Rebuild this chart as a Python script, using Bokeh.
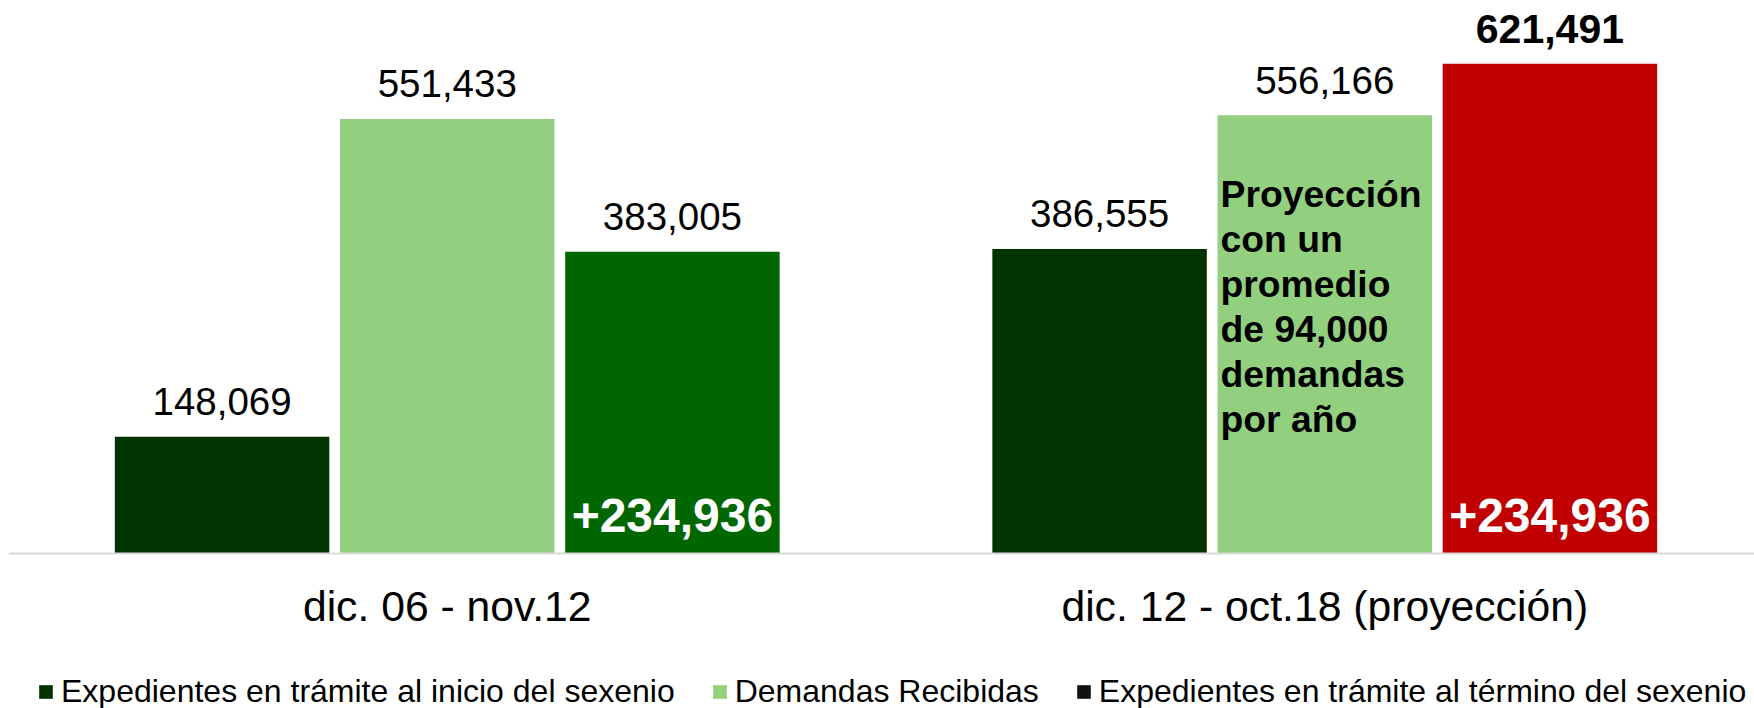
from bokeh.plotting import figure
from bokeh.models import Range1d, FixedTicker, Legend, LegendItem, ColumnDataSource
from bokeh.core.properties import value
from bokeh.embed import file_html
from bokeh.resources import INLINE

# ---- data ----
periods = ["dic. 06 - nov.12", "dic. 12 - oct.18 (proyección)"]
series_names = [
    "Expedientes en trámite al inicio del sexenio",
    "Demandas Recibidas",
    "Expedientes en trámite al término del sexenio",
]
inicio = [148069, 386555]
recibidas = [551433, 556166]
termino = [383005, 621491]
nota = ["Proyección", "con un", "promedio", "de 94,000", "demandas", "por año"]

# ---- styling ----
FONT = "Liberation Sans"
W, H = 1754, 708
LEFT_PX = 8
GROUP_PX = 877.5
BASE_PX = 553          # baseline distance from top
PX_PER_UNIT = 0.000788
OFFS = 0.2566
BW = 0.2444
C_INICIO = "#003300"
C_RECIB = "#92D080"
C_TERM = ["#006600", "#C00000"]
C_TERM_LEGEND = "#111111"

centers = [i + 0.5 for i in range(len(periods))]

p = figure(
    width=W, height=H,
    x_range=Range1d(0, (W - LEFT_PX) / GROUP_PX),
    y_range=Range1d(-(H - BASE_PX) / PX_PER_UNIT, BASE_PX / PX_PER_UNIT),
    y_axis_location=None,
    output_backend="svg", toolbar_location=None,
    min_border_left=LEFT_PX, min_border_right=0, min_border_top=0,
    min_border_bottom=0,
)
p.xgrid.visible = False
p.ygrid.visible = False
p.outline_line_color = None
p.background_fill_color = "white"
p.border_fill_color = "white"

s1 = ColumnDataSource(dict(x=[c - OFFS for c in centers], top=inicio))
s2 = ColumnDataSource(dict(x=list(centers), top=recibidas))
s3 = ColumnDataSource(dict(x=[c + OFFS for c in centers], top=termino, color=C_TERM))

r1 = p.vbar(x="x", top="top", width=BW, bottom=0, source=s1, fill_color=C_INICIO, line_color=None)
r2 = p.vbar(x="x", top="top", width=BW, bottom=0, source=s2, fill_color=C_RECIB, line_color=None)
r3 = p.vbar(x="x", top="top", width=BW, bottom=0, source=s3, fill_color="color", line_color=None)
# zero-height stand-in that only supplies the black legend swatch of the third series
s_leg3 = ColumnDataSource(dict(x=[centers[0] + OFFS], top=[0]))
r_leg3 = p.vbar(x="x", top="top", width=BW, bottom=0, source=s_leg3,
                fill_color=C_TERM_LEGEND, line_color=None)

# value labels
lx, ly, lt, lstyle, lsize = [], [], [], [], []
for i, c in enumerate(centers):
    for x, v in ((c - OFFS, inicio[i]), (c, recibidas[i]), (c + OFFS, termino[i])):
        bold = (i == len(centers) - 1 and v == termino[i])
        lx.append(x)
        ly.append(v)
        lt.append(f"{v:,}")
        lstyle.append("bold" if bold else "normal")
        lsize.append("41px" if bold else "38.5px")
lab = ColumnDataSource(dict(x=lx, y=ly, text=lt, style=lstyle, size=lsize))
p.text(x="x", y="y", text="text", source=lab, text_font=value(FONT),
       text_font_size="size", text_font_style="style", text_color="black",
       text_align="center", text_baseline="alphabetic", y_offset=-35)

# increase labels inside third bars
inc = ColumnDataSource(dict(
    x=[c + OFFS for c in centers],
    y=[0 for _ in centers],
    text=[f"+{t - s:,}" for t, s in zip(termino, inicio)],
))
p.text(x="x", y="y", text="text", source=inc, text_font=value(FONT),
       text_font_size="48px", text_font_style="bold", text_color="white",
       text_align="center", text_baseline="alphabetic", y_offset=-38.5)

# projection note inside second bar of the second group
ns = ColumnDataSource(dict(
    x=[centers[1] - BW / 2] * len(nota),
    y=[recibidas[1]] * len(nota),
    text=nota,
    yo=[79 + 45 * i for i in range(len(nota))],
))
p.text(x="x", y="y", text="text", source=ns, text_font=value(FONT),
       text_font_size="37.3px", text_font_style="bold", text_color="black",
       text_align="left", text_baseline="alphabetic", y_offset="yo", x_offset=3)

# x axis drawn at the zero line
ax = p.xaxis[0]
ax.fixed_location = 0
ax.ticker = FixedTicker(ticks=centers)
ax.major_label_overrides = {c: lbl for c, lbl in zip(centers, periods)}
ax.major_tick_line_color = None
ax.minor_tick_line_color = None
ax.major_tick_out = 0
ax.major_tick_in = 0
ax.major_label_standoff = 28
ax.major_label_text_font = FONT
ax.major_label_text_font_size = "42.7px"
ax.major_label_text_color = "black"
ax.axis_line_color = "#D9D9D9"
ax.axis_line_width = 2

legend = Legend(
    items=[
        LegendItem(label=series_names[0], renderers=[r1]),
        LegendItem(label=series_names[1], renderers=[r2]),
        LegendItem(label=series_names[2], renderers=[r_leg3]),
    ],
    orientation="horizontal",
    location=(29, -2),
    glyph_width=17, glyph_height=17,
    label_standoff=7, spacing=36,
    padding=0, margin=0,
    border_line_color=None, background_fill_alpha=0,
    label_text_font=FONT, label_text_font_size="32px", label_text_color="black",
    label_height=17,
)
p.add_layout(legend)

open("out.html", "w").write(file_html(p, INLINE))
